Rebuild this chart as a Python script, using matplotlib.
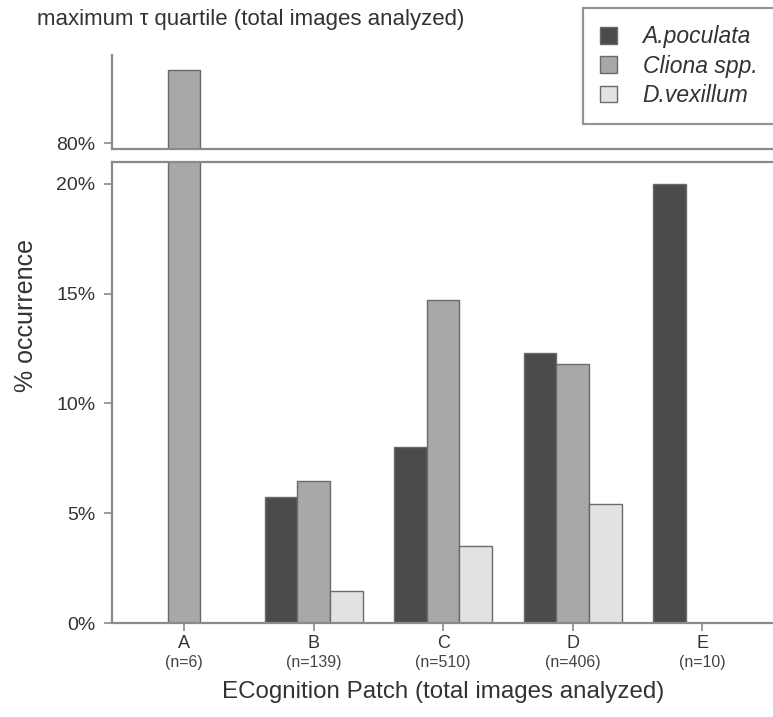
import numpy as np
import matplotlib
matplotlib.use("Agg")
from matplotlib import pyplot as plt
from matplotlib.patches import Patch
from matplotlib import transforms

plt.rcParams['font.family'] = ['Liberation Sans', 'DejaVu Sans']

patches = ['A', 'B', 'C', 'D', 'E']
n_images = [6, 139, 510, 406, 10]
species = ['A.poculata', 'Cliona spp.', 'D.vexillum']
# % occurrence per patch, one list per species
poculata = [0.0, 5.76, 8.04, 12.32, 20.0]
cliona = [83.33, 6.47, 14.71, 11.82, 0.0]
vexillum = [0.0, 1.44, 3.53, 5.42, 0.0]

colors = ['#4b4b4b', '#a8a8a8', '#e2e2e2']
edge = '#6a6a6a'
spine_col = '#8a8a8a'
txt_col = '#333333'

fig = plt.figure(figsize=(7.73, 7.17), dpi=100)
W, H = 773, 717
ax_lo = fig.add_axes([112 / W, 1 - 623 / H, 1 - 112 / W + 0.002, (623 - 162) / H])
ax_hi = fig.add_axes([112 / W, 1 - 149 / H, 1 - 112 / W + 0.002, (149 - 55) / H])

x = np.arange(len(patches))
w = 0.252
for ax in (ax_lo, ax_hi):
    for i, vals in enumerate([poculata, cliona, vexillum]):
        v = np.array(vals)
        keep = v > 0
        ax.bar(x[keep] + (i - 1) * w, v[keep], w, color=colors[i],
               edgecolor=edge, linewidth=1.0, zorder=2)
    ax.set_xlim(-0.557, 4.56)
    ax.spines['right'].set_visible(False)
    for s in ax.spines.values():
        s.set_color(spine_col)
        s.set_linewidth(1.6)
    ax.tick_params(axis='y', direction='out', length=6, width=1.2,
                   color=spine_col, labelsize=14, labelcolor=txt_col, pad=6)

ax_lo.set_ylim(0, 21.0)
ax_lo.set_yticks([0, 5, 10, 15, 20])
ax_lo.set_yticklabels(['0%', '5%', '10%', '15%', '20%'])
ax_lo.set_xticks(x)
ax_lo.set_xticklabels(patches)
ax_lo.tick_params(axis='x', direction='out', length=6, width=1.2, color=spine_col,
                  labelsize=13, labelcolor=txt_col, pad=3)
ax_lo.set_ylabel('% occurrence', fontsize=18, color=txt_col)
ax_lo.yaxis.set_label_coords(-0.111, 0.668)

trans = transforms.blended_transform_factory(ax_lo.transData, fig.transFigure)
for xi, n in zip(x, n_images):
    fig.text(xi, 1 - 662 / H, f'(n={n})', transform=trans, ha='center', va='center',
             fontsize=11.5, color='#444444')
fig.text(443 / W, 1 - 692 / H, 'ECognition Patch (total images analyzed)',
         ha='center', va='center', fontsize=17.4, color=txt_col)

ax_hi.set_ylim(79.73, 84.0)
ax_hi.set_yticks([80])
ax_hi.set_yticklabels(['80%'])
ax_hi.set_xticks([])
ax_hi.spines['top'].set_visible(False)

fig.text(37 / W, 1 - 19 / H, 'maximum \u03c4 quartile (total images analyzed)',
         ha='left', va='center', fontsize=16, color=txt_col)

handles = [Patch(facecolor=c, edgecolor=edge, linewidth=1.0) for c in colors]
leg = fig.legend(handles, species, loc='upper left',
                 bbox_to_anchor=(583 / W, 1 - 8 / H, 0.3, 0.0), mode='expand',
                 prop={'style': 'italic', 'size': 16.5}, frameon=True, fancybox=False,
                 handlelength=0.75, handleheight=0.75, handletextpad=1.1,
                 labelspacing=0.28, borderpad=0.75, borderaxespad=0)
leg.get_frame().set_edgecolor('#7a7a7a')
leg.get_frame().set_linewidth(1.6)
for t in leg.get_texts():
    t.set_color(txt_col)

fig.savefig('out.png', dpi=100)
